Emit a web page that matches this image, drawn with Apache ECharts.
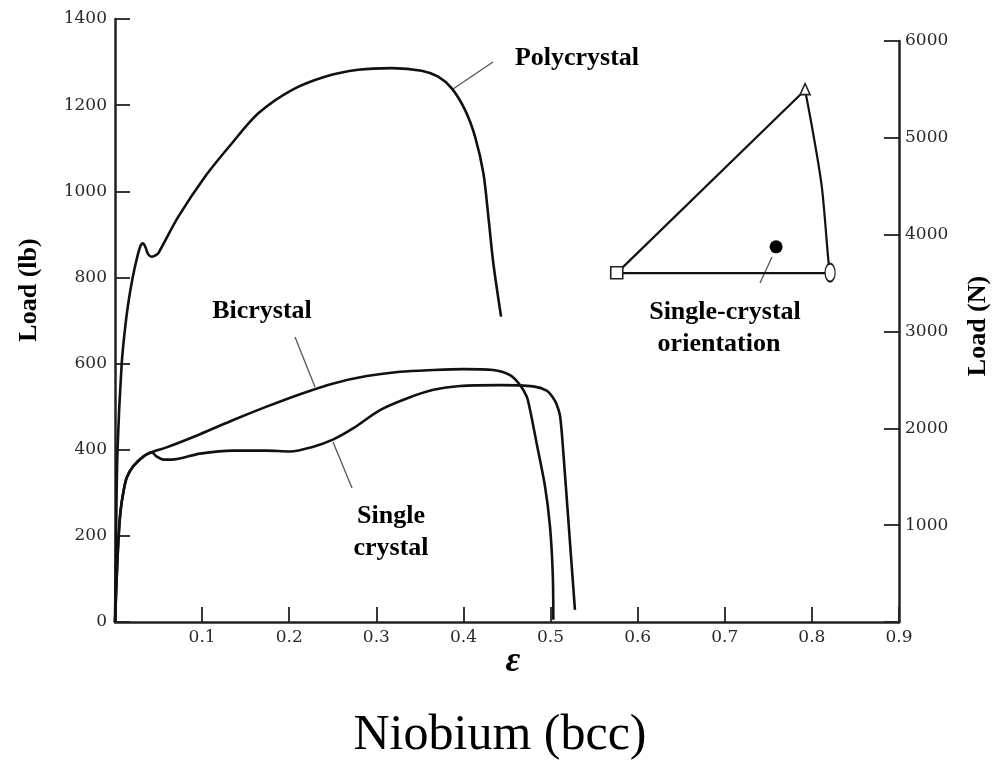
<!DOCTYPE html>
<html><head><meta charset="utf-8">
<script src="https://cdn.jsdelivr.net/npm/echarts@6/dist/echarts.min.js"></script>
<style>html,body{margin:0;padding:0;background:#fff}#c{width:996px;height:769px}</style>
</head><body><div id="c"></div>
<script>
// strain (ε) vs load (lb)
const polycrystal = [[0,0],[0.0012,200],[0.0029,400],[0.0077,600],[0.012,690],[0.016,750],[0.0203,800],[0.025,843],[0.029,872],[0.032,879],[0.035,870],[0.038,854],[0.042,848],[0.047,852],[0.0497,856],[0.0727,941],[0.1033,1034],[0.134,1111],[0.1645,1181],[0.2029,1235],[0.241,1266],[0.2793,1282],[0.3177,1286],[0.352,1280],[0.371,1266],[0.3866,1239],[0.4018,1189],[0.4133,1127],[0.4229,1042],[0.4286,941],[0.4343,833],[0.4432,709]];
const bicrystal = [[0,0],[0.0025,130],[0.0045,210],[0.0065,260],[0.0095,300],[0.0134,335],[0.021,362],[0.0325,384],[0.042,394],[0.06,406],[0.0976,436],[0.1358,469],[0.174,500],[0.2124,529],[0.2507,554],[0.289,571],[0.3272,581],[0.3655,585],[0.40,587],[0.434,585],[0.4535,573],[0.465,550],[0.4727,523],[0.4765,492],[0.484,415],[0.4937,314],[0.4994,221],[0.5025,113],[0.5032,5]];
const singleCrystal = [[0,0],[0.0025,130],[0.0045,210],[0.0065,260],[0.0095,300],[0.0134,335],[0.021,362],[0.0325,384],[0.042,394],[0.048,384],[0.056,377],[0.065,377],[0.0976,391],[0.1358,398],[0.174,398],[0.2009,396],[0.2277,407],[0.2507,424],[0.2736,450],[0.3042,492],[0.3349,519],[0.3655,539],[0.396,548],[0.442,550],[0.48,547],[0.4956,537],[0.503,520],[0.507,505],[0.511,477],[0.5147,392],[0.5204,237],[0.528,28]];
// inset stereographic triangle (drawn in the same data space)
const insetEdges = [[0.8209,810],[0.576,810],[0.7922,1235]];
const insetArc = [[0.7922,1235],[0.8014,1135],[0.8114,1010],[0.8189,840],[0.8209,810]];
const insetSquare = [[0.576,811]];
const insetTriangle = [[0.7922,1237]];
const insetEllipse = [[0.8209,811]];
const insetDot = [[0.7589,871]];
// tick labels
const xTickLabels = ['', '0.1', '0.2', '0.3', '0.4', '0.5', '0.6', '0.7', '0.8', '0.9'];
const leftTickLabels = ['0', '200', '400', '600', '800', '1000', '1200', '1400'];
const rightTickLabels = ['', '1000', '2000', '3000', '4000', '5000', '6000'];

const chart = echarts.init(document.getElementById('c'), null, {renderer: 'canvas'});
const axisCol = '#222';
const tickFont = {fontFamily: 'DejaVu Serif', fontSize: 17, color: '#2a2a2a'};
const annFont = 'bold 26px "Liberation Serif"';
const lineStyle = {color: '#111', width: 2.6};
const hollow = {color: '#fff', borderColor: '#222', borderWidth: 1.6, opacity: 1};

chart.setOption({
  animation: false,
  backgroundColor: '#fff',
  grid: [
    {left: 115, top: 19, right: 97, bottom: 147},
    {left: 115, top: 41, right: 97, bottom: 147}
  ],
  xAxis: [
    {type: 'value', gridIndex: 0, min: 0, max: 0.9, interval: 0.1,
     axisLine: {show: true, onZero: false, lineStyle: {color: axisCol, width: 2.5}},
     axisTick: {show: true, inside: true, length: 15, lineStyle: {color: axisCol, width: 1.8}},
     axisLabel: Object.assign({margin: 7, formatter: v => xTickLabels[Math.round(v * 10)]}, tickFont),
     splitLine: {show: false}},
    {type: 'value', gridIndex: 1, min: 0, max: 0.9, show: false}
  ],
  yAxis: [
    {type: 'value', gridIndex: 0, min: 0, max: 1400, interval: 200, position: 'left',
     axisLine: {show: true, onZero: false, lineStyle: {color: axisCol, width: 2.5}},
     axisTick: {show: true, inside: true, length: 15, lineStyle: {color: axisCol, width: 1.8}},
     axisLabel: Object.assign({margin: 8, formatter: v => leftTickLabels[Math.round(v / 200)]}, tickFont),
     splitLine: {show: false}},
    {type: 'value', gridIndex: 1, min: 0, max: 6000, interval: 1000, position: 'right',
     axisLine: {show: true, onZero: false, lineStyle: {color: axisCol, width: 2.5}},
     axisTick: {show: true, inside: true, length: 15, lineStyle: {color: axisCol, width: 1.8}},
     axisLabel: Object.assign({margin: 6, formatter: v => rightTickLabels[Math.round(v / 1000)]}, tickFont),
     splitLine: {show: false}}
  ],
  series: [
    {name: 'Polycrystal', type: 'line', data: polycrystal, smooth: 0.3, showSymbol: false, lineStyle: lineStyle, z: 3},
    {name: 'Bicrystal', type: 'line', data: bicrystal, smooth: 0.3, showSymbol: false, lineStyle: lineStyle, z: 3},
    {name: 'Single crystal', type: 'line', data: singleCrystal, smooth: 0.3, showSymbol: false, lineStyle: lineStyle, z: 3},
    {type: 'line', data: insetEdges, smooth: false, showSymbol: false, lineStyle: {color: '#111', width: 2.2}, z: 3},
    {type: 'line', data: insetArc, smooth: 0.3, showSymbol: false, lineStyle: {color: '#111', width: 2.2}, z: 3},
    {type: 'scatter', data: insetSquare, symbol: 'rect', symbolSize: 12, itemStyle: hollow, z: 4},
    {type: 'scatter', data: insetTriangle, symbol: 'triangle', symbolSize: [10, 11], itemStyle: hollow, z: 4},
    {type: 'scatter', data: insetEllipse, symbol: 'circle', symbolSize: [10, 18], itemStyle: hollow, z: 4},
    {type: 'scatter', data: insetDot, symbol: 'circle', symbolSize: 13, itemStyle: {color: '#000', opacity: 1}, z: 4}
  ],
  graphic: [
    {type: 'line', shape: {x1: 493, y1: 62, x2: 453, y2: 89}, style: {stroke: '#555', lineWidth: 1.3}},
    {type: 'line', shape: {x1: 295, y1: 337, x2: 315, y2: 387}, style: {stroke: '#555', lineWidth: 1.3}},
    {type: 'line', shape: {x1: 333, y1: 442, x2: 352, y2: 488}, style: {stroke: '#555', lineWidth: 1.3}},
    {type: 'line', shape: {x1: 772, y1: 257, x2: 760, y2: 283}, style: {stroke: '#555', lineWidth: 1.3}},
    {type: 'text', style: {text: 'Polycrystal', x: 577, y: 58, font: annFont, fill: '#000', textAlign: 'center', textVerticalAlign: 'middle'}},
    {type: 'text', style: {text: 'Bicrystal', x: 262, y: 311, font: annFont, fill: '#000', textAlign: 'center', textVerticalAlign: 'middle'}},
    {type: 'text', style: {text: 'Single', x: 391, y: 516, font: annFont, fill: '#000', textAlign: 'center', textVerticalAlign: 'middle'}},
    {type: 'text', style: {text: 'crystal', x: 391, y: 548, font: annFont, fill: '#000', textAlign: 'center', textVerticalAlign: 'middle'}},
    {type: 'text', style: {text: 'Single-crystal', x: 725, y: 312, font: annFont, fill: '#000', textAlign: 'center', textVerticalAlign: 'middle'}},
    {type: 'text', style: {text: 'orientation', x: 719, y: 344, font: annFont, fill: '#000', textAlign: 'center', textVerticalAlign: 'middle'}},
    {type: 'text', x: 29, y: 290, rotation: Math.PI / 2, style: {text: 'Load (lb)', x: 0, y: 0, font: annFont, fill: '#000', textAlign: 'center', textVerticalAlign: 'middle'}},
    {type: 'text', x: 978, y: 326, rotation: Math.PI / 2, style: {text: 'Load (N)', x: 0, y: 0, font: annFont, fill: '#000', textAlign: 'center', textVerticalAlign: 'middle'}},
    {type: 'text', style: {text: 'ε', x: 513, y: 662, font: 'italic bold 36px "Liberation Serif"', fill: '#000', textAlign: 'center', textVerticalAlign: 'middle'}},
    {type: 'text', style: {text: 'Niobium (bcc)', x: 500, y: 736, font: '50px "Liberation Serif"', fill: '#000', textAlign: 'center', textVerticalAlign: 'middle'}}
  ]
});
</script></body></html>
